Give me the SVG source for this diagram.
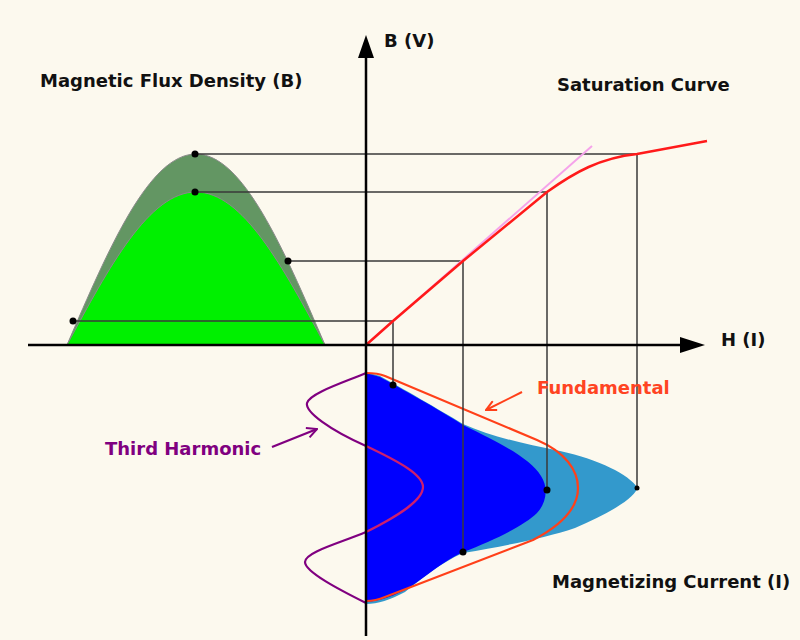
<svg xmlns="http://www.w3.org/2000/svg" width="800" height="640" viewBox="0 0 800 640">
<defs>
<style>
.lbl{font-family:"DejaVu Sans","Liberation Sans",sans-serif;font-weight:bold;font-size:18px;fill:#111}
.guide{stroke:#3a3a3a;stroke-width:1.5;fill:none}
.axis{stroke:#000;stroke-width:2.5;fill:none}
.dot{fill:#000}
</style>
<marker id="veeOrange" viewBox="0 0 12 12" refX="11" refY="6" markerWidth="12" markerHeight="12" markerUnits="userSpaceOnUse" orient="auto">
<path d="M1,1 L11,6 L1,11" fill="none" stroke="#ff4019" stroke-width="2"/>
</marker>
<marker id="veePurple" viewBox="0 0 12 12" refX="11" refY="6" markerWidth="12" markerHeight="12" markerUnits="userSpaceOnUse" orient="auto">
<path d="M1,1 L11,6 L1,11" fill="none" stroke="#800080" stroke-width="2"/>
</marker>
</defs>
<rect width="800" height="640" fill="#fcf9ee"/>

<g id="flux-density">
<path d="M67,345 C109.1,247.2 149.3,154 196,154 C242.7,154 282.9,247.2 325,345 Z" fill="#639663" stroke="#8a8a8a" stroke-width="1"/>
<path d="M67,345 C109.1,266.7 149.3,192 196,192 C242.7,192 282.9,266.7 325,345 Z" fill="#00f000" stroke="#8a8a8a" stroke-width="1"/>
</g>

<g id="magnetizing-current">
<path d="M366,372 L380,376 C400,387 440,410 463,424 C490,436 520,443 560,451 C600,460 628,474 638,488 C630,502 605,515 575,528 C545,538 510,545 463,553 C440,563 420,580 405,592 C390,600 378,604 366,604 Z" fill="#3399cc"/>
<path d="M366,373 L380,377 C400,388 440,410 463,425 C500,443 530,458 541,476 C549,488 546,504 537,513 C525,525 495,540 463,552 C445,560 425,577 410,587 C395,596 380,601 366,602 Z" fill="#0000ff"/>
</g>

<g id="fundamental">
<path d="M366,373 C372,373 378,373 385,376 L537,440 C565,452 578,470 578,488 C578,508 562,525 533,540 L385,597 C378,600 372,601 366,601" fill="none" stroke="#ff4019" stroke-width="2.2" stroke-linejoin="round"/>
</g>

<g id="third-harmonic">
<path d="M366,373 C345,382 310,393 307,403 C305,412 330,430 366,446" fill="none" stroke="#800080" stroke-width="2.2"/>
<path d="M366,446 C400,462 423,475 423,487 C423,500 400,515 366,532" fill="none" stroke="#cc1f6e" stroke-width="2.2"/>
<path d="M366,532 C340,543 305,552 305,562 C305,572 340,590 366,603" fill="none" stroke="#800080" stroke-width="2.2"/>
</g>

<g id="connectors">
<path class="guide" d="M195,154 H637 M195,192 H547 M288,261 H463 M73,321 H393"/>
<path class="guide" d="M393,321 V385 M463,261 V552 M547,192 V490 M637,154 V488"/>
<line x1="522" y1="392" x2="486" y2="410" stroke="#ff4019" stroke-width="2" marker-end="url(#veeOrange)"/>
<line x1="272" y1="447" x2="317" y2="429" stroke="#800080" stroke-width="2.2" marker-end="url(#veePurple)"/>
</g>

<g id="saturation-curve">
<line x1="366" y1="345" x2="592" y2="146" stroke="#f5a3ea" stroke-width="2"/>
<path d="M366,345 L393,321 L463,261 L547,192 C575,172 600,158 637,154 L707,141" fill="none" stroke="#ff1a1a" stroke-width="2.5"/>
</g>

<g id="axes">
<line class="axis" x1="366" y1="55" x2="366" y2="636"/>
<polygon points="366,35 358,58 374,58" fill="#000"/>
<line class="axis" x1="28" y1="345" x2="685" y2="345"/>
<polygon points="705,345 680,337 680,353" fill="#000"/>
</g>

<g id="dots">
<circle class="dot" cx="195" cy="154" r="3.5"/>
<circle class="dot" cx="195" cy="192" r="3.5"/>
<circle class="dot" cx="288" cy="261" r="3.5"/>
<circle class="dot" cx="73" cy="321" r="3.5"/>
<circle class="dot" cx="393" cy="385" r="3.5"/>
<circle class="dot" cx="463" cy="552" r="3.5"/>
<circle class="dot" cx="547" cy="490" r="3.5"/>
<circle class="dot" cx="637" cy="488" r="2.5"/>
</g>

<g id="labels">
<text class="lbl" x="384" y="47">B (V)</text>
<text class="lbl" x="40" y="87">Magnetic Flux Density (B)</text>
<text class="lbl" x="557" y="91">Saturation Curve</text>
<text class="lbl" x="721" y="346">H (I)</text>
<text class="lbl" x="537" y="394" style="fill:#ff4422">Fundamental</text>
<text class="lbl" x="105" y="455" style="fill:#800080">Third Harmonic</text>
<text class="lbl" x="552" y="588">Magnetizing Current (I)</text>
</g>
</svg>
